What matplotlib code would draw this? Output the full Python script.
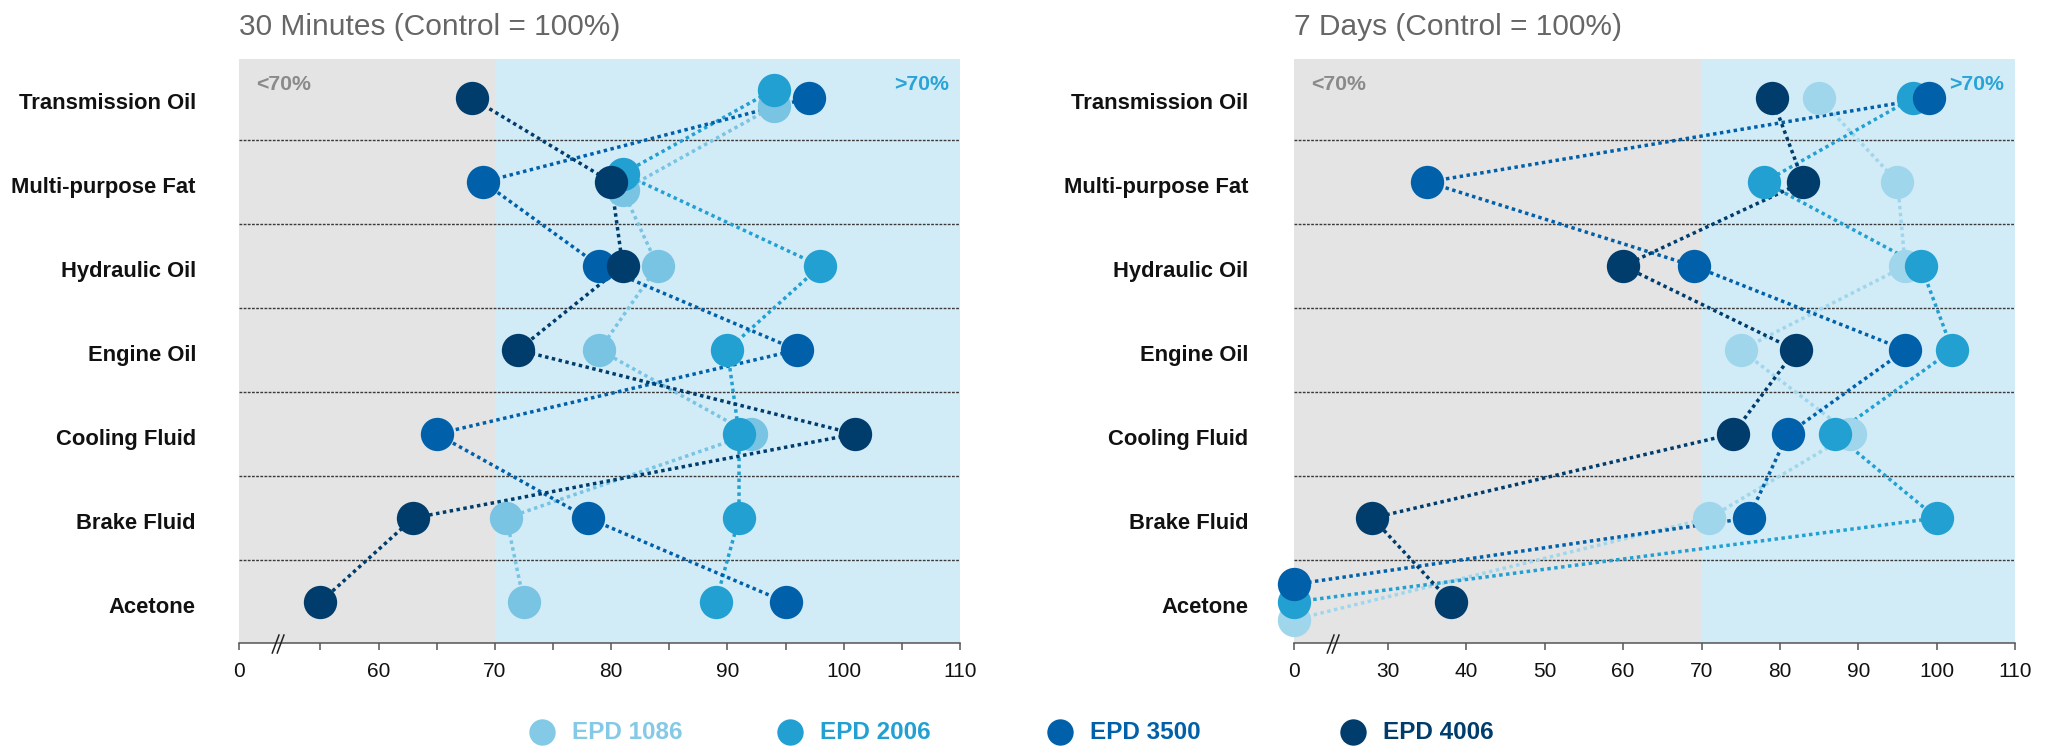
import matplotlib.pyplot as plt
import numpy as np
from matplotlib.lines import Line2D
from matplotlib.ticker import FixedLocator

plt.rcParams['font.family'] = ['Liberation Sans', 'DejaVu Sans']

# Datos (control = 100%)
categories = ["Transmission Oil", "Multi-purpose Fat", "Hydraulic Oil", "Engine Oil",
              "Cooling Fluid", "Brake Fluid", "Acetone"]
series = ["EPD 1086", "EPD 2006", "EPD 3500", "EPD 4006"]

min30_1086 = [94, 81, 84, 79, 92, 71, 72.5]
min30_2006 = [94, 81, 98, 90, 91, 91, 89]
min30_3500 = [97, 69, 79, 96, 65, 78, 95]
min30_4006 = [68, 80, 81, 72, 101, 63, 55]

day7_1086 = [85, 95, 96, 75, 89, 71, 0]
day7_2006 = [97, 78, 98, 102, 87, 100, 0]
day7_3500 = [99, 35, 69, 96, 81, 76, 0]
day7_4006 = [79, 83, 60, 82, 74, 28, 38]

min30_ticks = [0, 60, 70, 80, 90, 100, 110]
min30_minor = [55, 65, 75, 85, 95, 105]
day7_ticks = [0, 30, 40, 50, 60, 70, 80, 90, 100, 110]

# Colores
legend_colors = ['#84C9E6', '#22A0D2', '#0060A9', '#003C6C']
left_colors = ['#79C3E3', '#22A0D2', '#0060A9', '#003C6C']
right_colors = ['#A0D6EC', '#22A0D2', '#0060A9', '#003C6C']

# desplazamiento vertical de los circulos que se solapan
left_nudge = [[0.1, 0.1, 0, 0, 0, 0, 0],
              [-0.1, -0.1, 0, 0, 0, 0, 0],
              [0] * 7,
              [0] * 7]
right_nudge = [[0, 0, 0, 0, 0, 0, 0.21],
               [0] * 7,
               [0, 0, 0, 0, 0, 0, -0.21],
               [0] * 7]


def broken_scale(brk, x0):
    # eje cortado: de 0 a brk se comprime en [x0, brk]
    def fwd(v):
        v = np.asarray(v, dtype=float)
        return np.where(v >= brk, v, x0 + (brk - x0) * v / brk)

    def inv(u):
        u = np.asarray(u, dtype=float)
        return np.where(u >= brk, u, (u - x0) * brk / (brk - x0))
    return fwd, inv


def draw_panel(ax, title, data, colors, nudges, brk, x0, majors, minors, ypad):
    rows = np.arange(len(categories))
    ax.set_xscale('function', functions=broken_scale(brk, x0))

    ax.axvspan(0, 70, color='#E4E4E4', lw=0, zorder=0)
    ax.axvspan(70, 110, color='#D2ECF7', lw=0, zorder=0)
    for k in range(len(categories) - 1):
        ax.axhline(k + 0.5, color='#3a3a3a', lw=1.0, ls=(0, (2, 1)), zorder=1)

    for vals, col, nud in zip(data, colors, nudges):
        ax.plot(vals, rows + np.array(nud), ls=(0, (1, 1)), lw=2.5, color=col,
                dash_capstyle='butt', zorder=2)
    for vals, col, nud in zip(data, colors, nudges):
        ax.plot(vals, rows + np.array(nud), 'o', ms=24, color=col, mec='none',
                zorder=3, clip_on=False)

    ax.set_xlim(0, 110)
    ax.set_ylim(6.488, -0.464)

    ax.set_yticks(rows + 0.03)
    ax.set_yticklabels(categories, fontsize=15.8, fontweight='bold', color='#111111')
    ax.tick_params(axis='y', length=0, pad=ypad)

    ax.xaxis.set_major_locator(FixedLocator(majors))
    ax.set_xticklabels([str(t) for t in majors])
    ax.xaxis.set_minor_locator(FixedLocator(minors))
    ax.tick_params(axis='x', which='both', length=5, width=1.1, color='#555555',
                   labelsize=15, pad=9, labelcolor='#111111')

    for s in ['top', 'left', 'right']:
        ax.spines[s].set_visible(False)
    ax.spines['bottom'].set_color('#555555')
    ax.spines['bottom'].set_linewidth(1.1)

    ax.text(0, 1.041, title, transform=ax.transAxes, fontsize=21.5, color='#666666',
            ha='left', va='baseline')
    ax.text(0.0236, 0.947, '<70%', transform=ax.transAxes, fontsize=15.3,
            fontweight='bold', color='#8A8A8A', ha='left', va='baseline')
    ax.text(0.9847, 0.947, '>70%', transform=ax.transAxes, fontsize=15.3,
            fontweight='bold', color='#2AA3D6', ha='right', va='baseline')

    # marca de corte "//"
    for dx in [0.0, 0.0069]:
        ax.plot([0.0462 + dx, 0.0555 + dx], [-0.0171, 0.0137], transform=ax.transAxes,
                color='#222222', lw=1.1, clip_on=False, zorder=5)


fig = plt.figure(figsize=(20.53, 7.47), dpi=100)
ax1 = fig.add_axes([0.1164, 0.1392, 0.3512, 0.7818])
ax2 = fig.add_axes([0.6303, 0.1392, 0.3512, 0.7818])

draw_panel(ax1, "30 Minutes (Control = 100%)",
           [min30_1086, min30_2006, min30_3500, min30_4006],
           left_colors, left_nudge, 50, 48, min30_ticks, min30_minor, 31)
draw_panel(ax2, "7 Days (Control = 100%)",
           [day7_1086, day7_2006, day7_3500, day7_4006],
           right_colors, right_nudge, 25, 18, day7_ticks, [], 33)

# leyenda manual (espaciado como el original)
legend_x = [542, 790, 1060, 1353]
for name, col, px in zip(series, legend_colors, legend_x):
    fig.add_artist(Line2D([px / 2053], [0.020], transform=fig.transFigure, marker='o',
                          ms=19, color=col, mec='none', ls='none'))
    fig.text((px + 30) / 2053, 0.020, name, fontsize=17.5, fontweight='bold',
             color=col, ha='left', va='center')

fig.savefig('out.png', dpi=100)
